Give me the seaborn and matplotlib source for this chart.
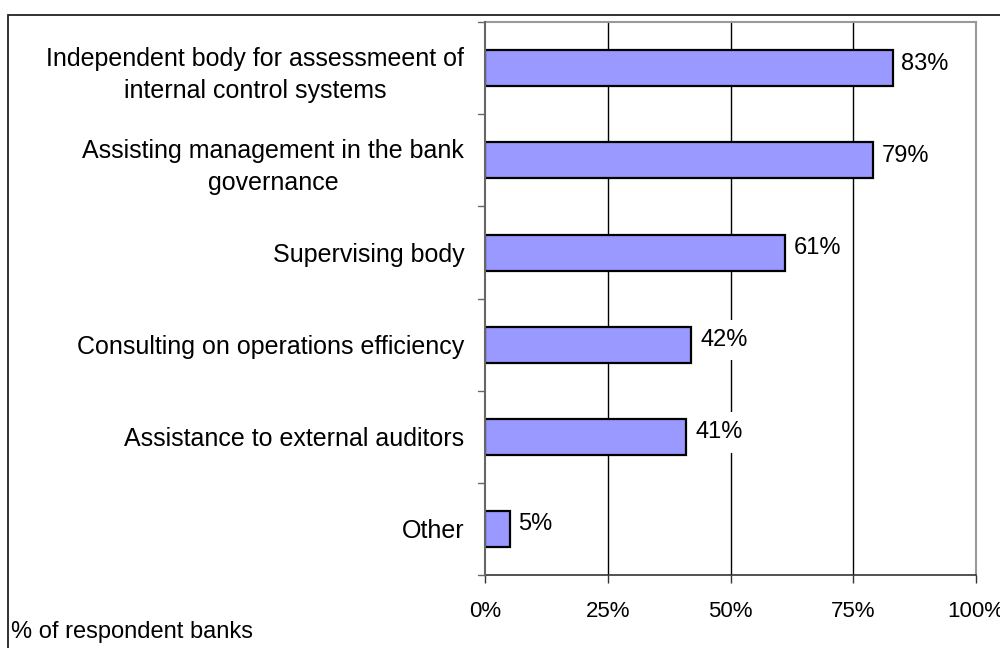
import matplotlib
matplotlib.use("Agg")
import matplotlib.pyplot as plt
import seaborn as sns
import pandas as pd
from matplotlib.patches import Rectangle

categories = [
    "Independent body for assessmeent of\ninternal control systems",
    "Assisting management in the bank\ngovernance",
    "Supervising body",
    "Consulting on operations efficiency",
    "Assistance to external auditors",
    "Other",
]
values = [83, 79, 61, 42, 41, 5]
x_ticks = [0, 25, 50, 75, 100]
x_tick_labels = ["0%", "25%", "50%", "75%", "100%"]
footnote = "% of respondent banks"

sns.set_theme(style="white")
plt.rcParams["font.family"] = ["Liberation Sans", "DejaVu Sans"]
plt.rcParams["text.color"] = "black"
plt.rcParams["xtick.color"] = "black"
plt.rcParams["ytick.color"] = "black"

df = pd.DataFrame({"category": categories, "value": values})

fig = plt.figure(figsize=(10, 6.48), dpi=100)
ax = fig.add_axes([0.485, 0.1127, 0.491, 0.853])

sns.barplot(data=df, x="value", y="category", ax=ax, color="#9999FF",
            saturation=1, width=0.39, edgecolor="black", linewidth=1.6,
            zorder=3)

ax.set_xlim(0, 100)
ax.set_ylim(len(categories) - 0.5, -0.5)
ax.set_xticks(x_ticks)
ax.set_xticklabels(x_tick_labels, fontsize=16)
ax.set_xlabel("")
ax.set_ylabel("")
ax.tick_params(axis="y", length=0, labelsize=18, pad=15)
for lbl in ax.get_yticklabels():
    lbl.set_multialignment("center")
    lbl.set_linespacing(1.45)
ax.tick_params(axis="x", length=6, width=1, color="#333333",
               direction="out", pad=13, bottom=True)

# category separators on the left axis
for b in range(0, len(categories) + 1):
    ax.plot([-0.015, 0], [b - 0.5, b - 0.5], transform=ax.get_yaxis_transform(),
            color="#666666", lw=1, clip_on=False)

for xv in x_ticks[1:-1]:
    ax.axvline(xv, color="black", lw=1, zorder=1)

for s in ["top", "right"]:
    ax.spines[s].set_color("#999999")
    ax.spines[s].set_linewidth(1.5)
ax.spines["left"].set_color("#666666")
ax.spines["left"].set_linewidth(1.5)
ax.spines["bottom"].set_color("#333333")
ax.spines["bottom"].set_linewidth(1.2)
ax.spines["left"].set_zorder(4)

for i, v in enumerate(values):
    ax.text(v + 1.8, i - 0.05, f"{v}%", va="center", ha="left", fontsize=17,
            zorder=2, bbox=dict(boxstyle="square,pad=0.4", fc="white", ec="none"))

fig.text(0.011, 0.024, footnote, fontsize=17, ha="left", va="center")

fig.patches.append(Rectangle((0.008, -0.01), 1.1, 0.987, transform=fig.transFigure,
                             fill=False, ec="#222222", lw=1.3, zorder=10))

fig.savefig("out.png", dpi=100)
